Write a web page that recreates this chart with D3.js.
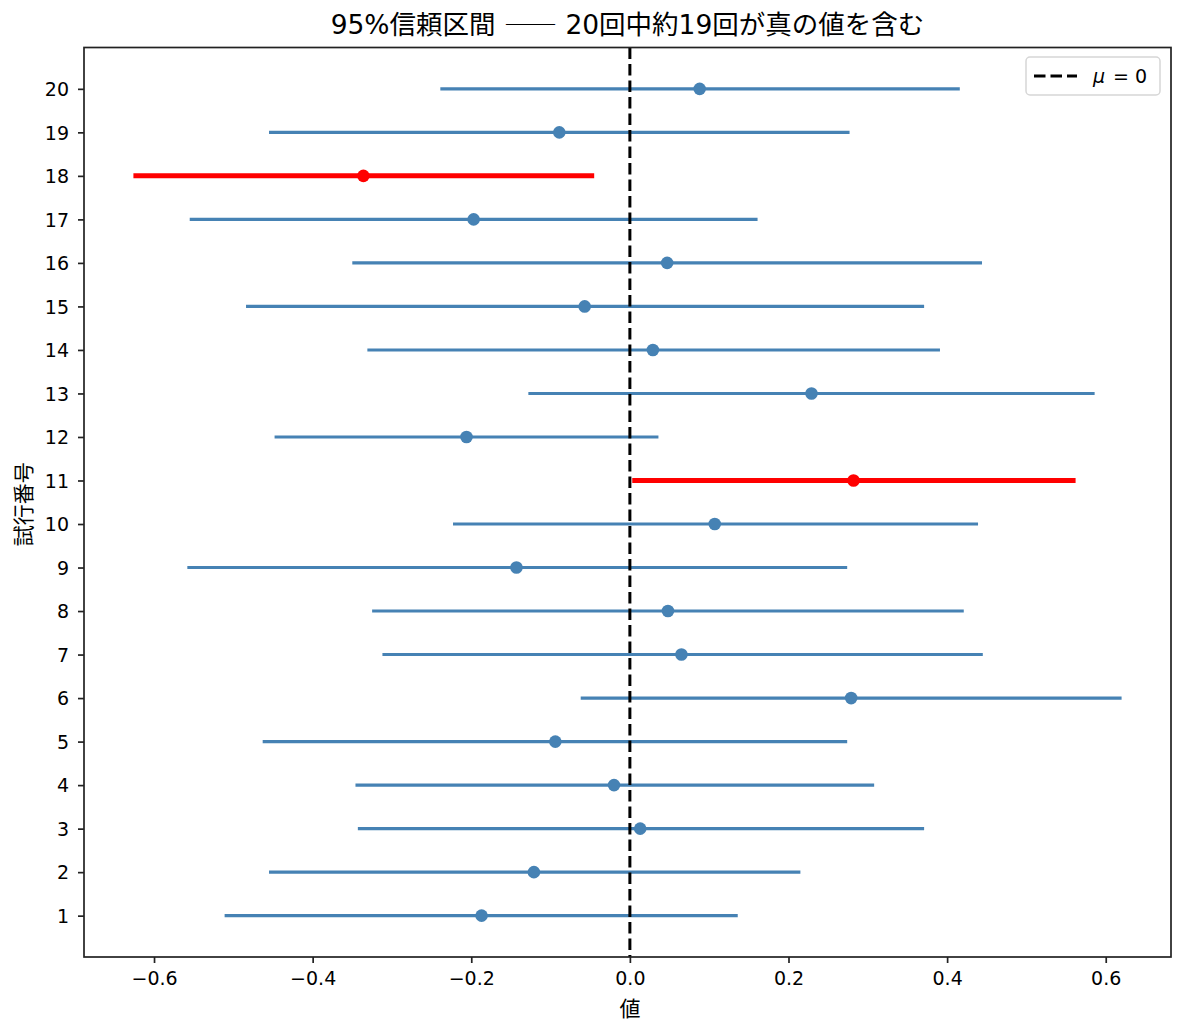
<!DOCTYPE html>
<html lang="ja">
<head>
<meta charset="UTF-8">
<title>95%信頼区間</title>
<style>
  body { margin: 0; background: #fff; }
  svg text { font-family: "DejaVu Sans", "Noto Sans CJK JP", sans-serif; fill: #000; }
  .tick text { font-size: 19px; }
  .jp { font-family: "Noto Sans CJK JP", sans-serif; }
</style>
</head>
<body>
<svg id="chart" width="1185" height="1035"></svg>
<script src="https://d3js.org/d3.v7.min.js"></script>
<script>
// trial numbers and interval values
const trials = d3.range(1, 21);
const means = [-0.187, -0.121, 0.013, -0.020, -0.094, 0.279, 0.065, 0.048, -0.143, 0.107,
               0.282, -0.206, 0.229, 0.029, -0.057, 0.047, -0.197, -0.336, -0.089, 0.088];
const lowers = [-0.511, -0.455, -0.343, -0.346, -0.463, -0.062, -0.312, -0.325, -0.558, -0.223,
                0.003, -0.448, -0.128, -0.331, -0.484, -0.350, -0.555, -0.626, -0.455, -0.239];
const uppers = [0.136, 0.215, 0.371, 0.308, 0.274, 0.620, 0.445, 0.421, 0.274, 0.439,
                0.562, 0.036, 0.586, 0.391, 0.371, 0.444, 0.161, -0.045, 0.277, 0.416];
const xTicks = [-0.6, -0.4, -0.2, 0.0, 0.2, 0.4, 0.6];
const trueMean = 0;

const rows = trials.map((t, i) => ({
  trial: t, mean: means[i], lo: lowers[i], hi: uppers[i],
  miss: lowers[i] > trueMean || uppers[i] < trueMean
}));

const svg = d3.select('#chart');
const margin = { left: 84, right: 1171, top: 47.5, bottom: 957 };

// matplotlib style 5% padding
const xMin = d3.min(lowers), xMax = d3.max(uppers);
const xPad = (xMax - xMin) * 0.05;
const x = d3.scaleLinear().domain([xMin - xPad, xMax + xPad]).range([margin.left, margin.right]);
const y = d3.scaleLinear().domain([1 - 0.95, 20 + 0.95]).range([margin.bottom, margin.top]);

// intervals
svg.append('g').selectAll('line')
  .data(rows).enter().append('line')
  .attr('x1', d => x(d.lo))
  .attr('x2', d => x(d.hi))
  .attr('y1', d => y(d.trial))
  .attr('y2', d => y(d.trial))
  .attr('stroke', d => d.miss ? '#ff0000' : 'steelblue')
  .attr('stroke-width', d => d.miss ? 5 : 3.1);

// true value line
svg.append('line')
  .attr('x1', x(trueMean)).attr('x2', x(trueMean))
  .attr('y1', margin.top).attr('y2', margin.bottom)
  .attr('stroke', '#000').attr('stroke-width', 3)
  .attr('stroke-dasharray', '11.5,5');

// point estimates
svg.append('g').selectAll('circle')
  .data(rows).enter().append('circle')
  .attr('cx', d => x(d.mean))
  .attr('cy', d => y(d.trial))
  .attr('r', 6.3)
  .attr('fill', d => d.miss ? '#ff0000' : 'steelblue');

// axes
const xAxis = svg.append('g')
  .attr('transform', `translate(0,${margin.bottom})`)
  .call(d3.axisBottom(x).tickValues(xTicks).tickSize(6).tickPadding(8)
    .tickFormat(d => d3.format('.1f')(d).replace('-', '\u2212')));
const yAxis = svg.append('g')
  .attr('transform', `translate(${margin.left},0)`)
  .call(d3.axisLeft(y).tickValues(trials).tickSize(6).tickPadding(9).tickFormat(d3.format('d')));
[xAxis, yAxis].forEach(a => {
  a.select('.domain').remove();
  a.selectAll('.tick line').attr('stroke', '#222').attr('stroke-width', 1.7);
});
yAxis.selectAll('.tick text').attr('dy', '0.36em');
xAxis.selectAll('.tick text').attr('dy', '0.74em');

// frame
svg.append('rect')
  .attr('x', margin.left).attr('y', margin.top)
  .attr('width', margin.right - margin.left)
  .attr('height', margin.bottom - margin.top)
  .attr('fill', 'none').attr('stroke', '#222').attr('stroke-width', 1.7);

// labels
const title = svg.append('text')
  .attr('x', (margin.left + margin.right) / 2).attr('y', 34)
  .attr('text-anchor', 'middle').style('font-size', '26.5px');
title.append('tspan').text('95%信頼区間 ');
title.append('tspan').attr('class', 'jp').text('——');
title.append('tspan').text(' 20回中約19回が真の値を含む');

svg.append('text').attr('class', 'jp')
  .attr('x', x(0)).attr('y', 1016)
  .attr('text-anchor', 'middle').style('font-size', '21px')
  .text('値');
svg.append('text').attr('class', 'jp')
  .attr('transform', `translate(31,${(margin.top + margin.bottom) / 2 + 2}) rotate(-90)`)
  .attr('text-anchor', 'middle').style('font-size', '21px')
  .text('試行番号');

// legend
const lg = svg.append('g').attr('transform', 'translate(1026,57)');
lg.append('rect')
  .attr('width', 134).attr('height', 38).attr('rx', 4)
  .attr('fill', '#fff').attr('fill-opacity', 0.8)
  .attr('stroke', '#d6d6d6').attr('stroke-width', 1.5);
lg.append('line')
  .attr('x1', 8).attr('x2', 51).attr('y1', 19).attr('y2', 19)
  .attr('stroke', '#000').attr('stroke-width', 3)
  .attr('stroke-dasharray', '11.5,5');
const lt = lg.append('text').attr('x', 67).attr('y', 26).style('font-size', '19px');
lt.append('tspan').style('font-style', 'italic').text('μ');
lt.append('tspan').attr('dx', 8).text('= 0');
</script>
</body>
</html>
